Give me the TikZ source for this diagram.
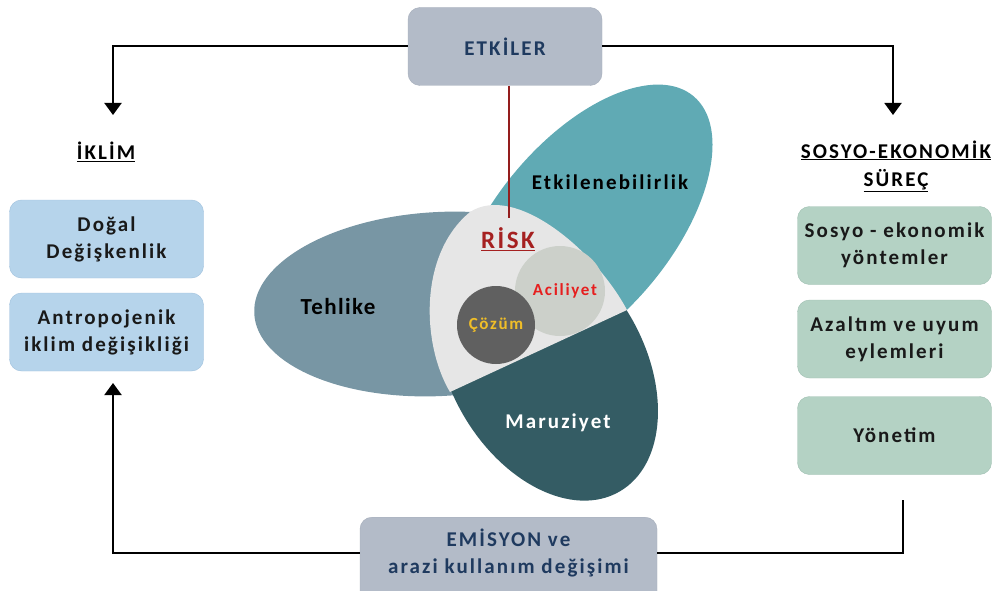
\documentclass[tikz,border=0pt]{standalone}
\usepackage{fontspec}
\setmainfont{Carlito}
\newfontfamily\widefont{Carlito}[LetterSpace=10]
\newfontfamily\tightfont{Carlito}[LetterSpace=6]
\usetikzlibrary{arrows.meta}

% Colours
\definecolor{boxgray}{HTML}{B3BBC8}
\definecolor{boxgrayedge}{HTML}{A6AEBB}
\definecolor{climblue}{HTML}{B6D4EB}
\definecolor{climedge}{HTML}{9FC0DC}
\definecolor{procgreen}{HTML}{B4D2C4}
\definecolor{procedge}{HTML}{A0C0B2}
\definecolor{navytext}{HTML}{1F3A5F}
\definecolor{hazardcol}{HTML}{7896A4}
\definecolor{vulncol}{HTML}{60AAB4}
\definecolor{exposcol}{HTML}{345C64}
\definecolor{riskfill}{HTML}{E6E6E6}
\definecolor{urgencyfill}{HTML}{CCD0CA}
\definecolor{solutionfill}{HTML}{606060}
\definecolor{riskred}{HTML}{A52020}
\definecolor{urgencyred}{HTML}{E61E1E}
\definecolor{solutiongold}{HTML}{F0BE28}

\tikzset{
  flowbox/.style={rounded corners=12pt, align=center, inner sep=0pt,
    minimum width=194pt, minimum height=78pt,
    font=\widefont\bfseries\fontsize{21}{27}\selectfont},
  topbox/.style={flowbox, draw=boxgrayedge, fill=boxgray, text=navytext},
  climbox/.style={flowbox, draw=climedge, fill=climblue, text=black!90},
  procbox/.style={flowbox, draw=procedge, fill=procgreen, text=black!90},
  heading/.style={align=center, font=\widefont\bfseries\fontsize{21}{28}\selectfont},
  petal/.style={font=\widefont\bfseries\fontsize{21}{24}\selectfont},
  flowline/.style={line width=2pt, black},
  flowarrow/.style={flowline, -{Triangle[width=17pt,length=12pt]}},
}

\begin{document}
\begin{tikzpicture}[x=1pt,y=-1pt]
  \useasboundingbox (0,0) rectangle (998,591);
  \clip (0,0) rectangle (998,591);

  % Petals of the risk diagram
  \fill[hazardcol, rotate around={3:(440,304)}] (440,304) ellipse [x radius=186, y radius=92];
  \fill[vulncol, rotate around={50:(583,228)}] (583,228) ellipse [x radius=172, y radius=88];
  \fill[exposcol, rotate around={-60:(547,366)}] (547,366) ellipse [x radius=145, y radius=97];

  % Overlap region
  \fill[riskfill] (627,310) -- (450,392)
    .. controls (422,345) and (418,255) .. (470,212)
    .. controls (515,183) and (595,250) .. (627,310) -- cycle;

  % Circles inside the overlap
  \node[circle, fill=urgencyfill, minimum size=90pt, inner sep=0pt,
    font=\widefont\bfseries\fontsize{17}{20}\selectfont, text=urgencyred] (aciliyet) at (560,291) {\hspace*{10pt}Aciliyet};
  \node[circle, fill=solutionfill, minimum size=78pt, inner sep=0pt,
    font=\widefont\bfseries\fontsize{17}{20}\selectfont, text=solutiongold] (cozum) at (496,325) {Çözüm};

  % Petal labels
  \node[petal, font=\tightfont\bfseries\fontsize{23}{26}\selectfont] (tehlike) at (338,307) {Tehlike};
  \node[petal] (etkilen) at (610,182) {Etkilenebilirlik};
  \node[petal, text=white] (maruz) at (558,423) {Maruziyet};
  \node[font=\widefont\bfseries\fontsize{25}{28}\selectfont, text=riskred] (risk) at (508,239) {\underline{RİSK}};

  % Boxes
  \node[topbox] (etkiler) at (505,46.5) {ETKİLER};
  \node[climbox] (dogal) at (106.5,239) {Doğal\\Değişkenlik};
  \node[climbox] (antro) at (106.5,332) {Antropojenik\\iklim değişikliği};
  \node[procbox] (yontem) at (894.5,245.5) {Sosyo - ekonomik\\yöntemler};
  \node[procbox] (azaltim) at (894.5,339) {Azaltım ve uyum\\eylemleri};
  \node[procbox] (yonetim) at (894.5,435.5) {Yönetim};
  \node[topbox, minimum width=297pt, minimum height=100pt, anchor=north] (emisyon) at (508.5,517) {};
  \node[align=center, text=navytext, font=\widefont\bfseries\fontsize{21}{27}\selectfont] (emistext) at (508.5,553) {EMİSYON ve\\arazi kullanım değişimi};

  % Headings
  \node[heading] (iklim) at (106,152) {\underline{İKLİM}};
  \node[heading] (surec) at (896,166) {\underline{SOSYO-EKONOMİK}\\\underline{SÜREÇ}};

  % Connector ends
  \coordinate (climtip) at (113,115);
  \coordinate (proctip) at (893,115);
  \coordinate (antrotip) at (113,383);
  \coordinate (procend) at (903,500);
  \coordinate (riskend) at (509,218);

  % Connectors
  \draw[flowarrow] (etkiler.west) -| (climtip);
  \draw[flowarrow] (etkiler.east) -| (proctip);
  \draw[flowarrow] (emistext -| emisyon.west) -| (antrotip);
  \draw[flowline] (emistext -| emisyon.east) -| (procend);
  \draw[riskred!90!black, line width=2pt] (etkiler.south -| riskend) -- (riskend);
\end{tikzpicture}
\end{document}
